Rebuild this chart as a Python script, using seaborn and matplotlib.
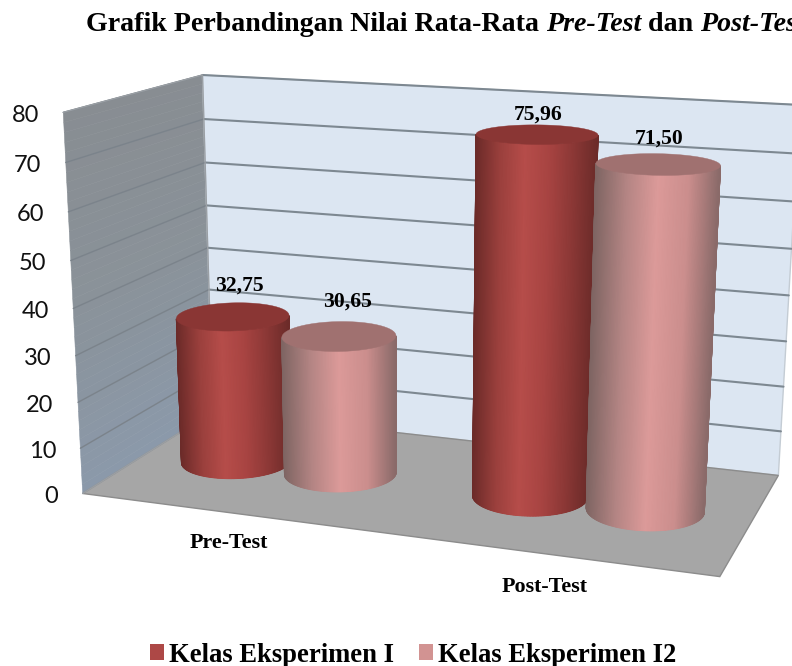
import numpy as np
import matplotlib
matplotlib.use('Agg')
import matplotlib.pyplot as plt
from matplotlib.patches import Patch
import seaborn as sns

categories = ['Pre-Test', 'Post-Test']
series_names = ['Kelas Eksperimen I', 'Kelas Eksperimen I2']
eksperimen_1 = [32.75, 75.96]
eksperimen_2 = [30.65, 71.50]
value_labels = [['32,75', '75,96'], ['30,65', '71,50']]
y_ticks = [0, 10, 20, 30, 40, 50, 60, 70, 80]
y_max = 80

# box corners as seen on screen, (x, depth, height) -> pixel, used to fit the camera
box_pts = [(0, 0, 0), (0, 1, 0), (1, 1, 0), (1, 0, 0), (0, 0, 1), (0, 1, 1), (1, 1, 1), (0, 0, .5), (0, 1, .5)]
box_px = [(82, 493), (213, 413), (778, 475), (720, 577), (63, 113), (202, 75), (800, 105), (74, 308), (208, 247)]


def fit_camera(pts, px):
    rows = []
    for (X, Y, Z), (u, v) in zip(pts, px):
        rows.append([X, Y, Z, 1, 0, 0, 0, 0, -u*X, -u*Y, -u*Z, -u])
        rows.append([0, 0, 0, 0, X, Y, Z, 1, -v*X, -v*Y, -v*Z, -v])
    return np.linalg.svd(np.array(rows, dtype=float))[2][-1].reshape(3, 4)


cam = fit_camera(box_pts, box_px)


def project(X, Y, Z):
    X, Y, Z = np.broadcast_arrays(np.asarray(X, float), np.asarray(Y, float), np.asarray(Z, float))
    p = cam @ np.array([X.ravel(), Y.ravel(), Z.ravel(), np.ones(X.size)])
    return np.column_stack([p[0]/p[2], p[1]/p[2]])


sns.set_theme(style='white')
serif = 'Liberation Serif'
fig = plt.figure(figsize=(7.92, 6.66), dpi=100)
ax = fig.add_axes([0, 0, 1, 1])

# walls and floor
zs = np.linspace(0, 1, 41)
wall_cols = sns.blend_palette(['#8b99aa', '#8a9299', '#888d92'], len(zs))
for i in range(len(zs)-1):
    q = project([0, 0, 0, 0], [0, 1, 1, 0], [zs[i], zs[i], zs[i+1], zs[i+1]])
    ax.fill(q[:, 0], q[:, 1], color=wall_cols[i], lw=0.4, zorder=1)
q = project([0, 1, 1, 0], [1, 1, 1, 1], [0, 0, 1, 1])
ax.fill(q[:, 0], q[:, 1], fc='#dce6f2', ec='#c4ccd4', lw=1, zorder=1)
q = project([0, 0, 1, 1], [0, 1, 1, 0], [0, 0, 0, 0])
ax.fill(q[:, 0], q[:, 1], fc='#a6a6a6', ec='#8c8c8c', lw=1, zorder=2)
q = project([0, 0, 0, 0], [0, 1, 1, 0], [0, 0, 1, 1])
ax.plot(q[:, 0], q[:, 1], color='#9a9fa4', lw=1, zorder=2)

for v in y_ticks[1:]:
    z = v/y_max
    left = project([0, 0], [0, 1], [z, z])
    back = project([0, 1], [1, 1], [z, z])
    ax.plot(left[:, 0], left[:, 1], color='#7b838b', lw=1, zorder=1.5)
    ax.plot(back[:, 0], back[:, 1], color='#7d8891', lw=1.5, zorder=1.5)
for v in y_ticks:
    ax.annotate(str(v), project(0, 0, v/y_max)[0], xytext=(-17.5, -2), textcoords='offset points',
                ha='right', va='center', fontsize=17, family='Lato', color='#111111')

# cylinders
red_cols = ['#6c2b29', '#9b403d', '#b64d4a', '#a84442', '#8c3836', '#6c2b29']
pink_cols = ['#7f6563', '#b48584', '#dc9a99', '#cb8e8d', '#8a6a69']
styles = [(sns.blend_palette(red_cols, 128, as_cmap=True), '#8a3634'),
          (sns.blend_palette(pink_cols, 128, as_cmap=True), '#a07170')]
x_centers = [[.155, .6555], [.338, .838]]
rx, ry = 0.089, 0.2
label_nudge = [[(6, 17), (1, 10)], [(8, 20), (1, 15)]]


def draw_cylinder(xc, value, cmap, top_col, z_order):
    # start behind the cylinder so the faces turned to the viewer stay in one run
    t = np.linspace(np.pi/2, 2.5*np.pi, 241)
    cx = xc + rx*np.cos(t)
    cy = .5 + ry*np.sin(t)
    top = project(cx, cy, np.full_like(t, value/y_max))
    bot = project(cx, cy, np.zeros_like(t))
    x0, x1 = top[:, 0].min(), top[:, 0].max()
    quads = np.stack([top[:-1], top[1:], bot[1:], bot[:-1]], axis=1)
    area = np.sum(quads[:, :, 0]*np.roll(quads[:, :, 1], -1, axis=1) - np.roll(quads[:, :, 0], -1, axis=1)*quads[:, :, 1], axis=1)
    front = np.flatnonzero(np.sign(area) == np.sign(area[np.argmin(cy[:-1])]))
    idx = np.arange(front[0], front[-1] + 2)
    mesh_x = np.array([top[idx, 0], bot[idx, 0]])
    mesh_y = np.array([top[idx, 1], bot[idx, 1]])
    shade = (top[idx, 0] - x0)/(x1 - x0)
    ax.pcolormesh(mesh_x, mesh_y, np.array([shade, shade]), shading='gouraud', cmap=cmap, vmin=0, vmax=1, zorder=z_order)
    ax.fill(bot[:, 0], bot[:, 1], color=cmap(0.5), lw=0, zorder=z_order - .1)
    ax.fill(top[:, 0], top[:, 1], color=top_col, lw=0.3, zorder=z_order)
    return top


z_order = 3
for c in range(len(categories)):
    for s, vals in enumerate([eksperimen_1, eksperimen_2]):
        cmap, top_col = styles[s]
        top = draw_cylinder(x_centers[s][c], vals[c], cmap, top_col, z_order)
        z_order += 1
        ax.annotate(value_labels[s][c], (top[:, 0].mean(), top[:, 1].min()),
                    xytext=label_nudge[s][c], textcoords='offset pixels', ha='center', va='center',
                    fontsize=15.6, family=serif, weight='bold', color='black', zorder=20)

ax.set_xlim(0, 792)
ax.set_ylim(666, 0)
ax.axis('off')

# category labels
for name, xpos, off in zip(categories, [.25, .75], [(0, -30), (-2, -33)]):
    ax.annotate(name, project(xpos, 0, 0)[0], xytext=off, textcoords='offset pixels',
                ha='center', va='center', fontsize=15.8, family=serif, weight='bold', color='black')

# title, bold with italic pieces
renderer = fig.canvas.get_renderer()
x_pos = 86
for piece, st in [('Grafik Perbandingan Nilai Rata-Rata ', 'normal'), ('Pre-Test', 'italic'),
                  (' dan ', 'normal'), ('Post-Test', 'italic')]:
    txt = ax.text(x_pos, 31, piece.replace(' ', '\u00a0'), fontsize=20.2, family=serif, weight='bold', style=st,
                  color='black', ha='left', va='baseline')
    x_pos = txt.get_window_extent(renderer).x1

handles = [Patch(fc='#ad4846', ec='none'), Patch(fc='#d29392', ec='none')]
ax.legend(handles, series_names, loc='center', bbox_to_anchor=(413, 655), bbox_transform=ax.transData, ncol=2,
          frameon=False, borderpad=0, handlelength=.54, handleheight=.54, handletextpad=.17, columnspacing=.95,
          prop={'family': serif, 'weight': 'bold', 'size': 19.2}, labelcolor='black')

fig.savefig('out.png', dpi=100)
